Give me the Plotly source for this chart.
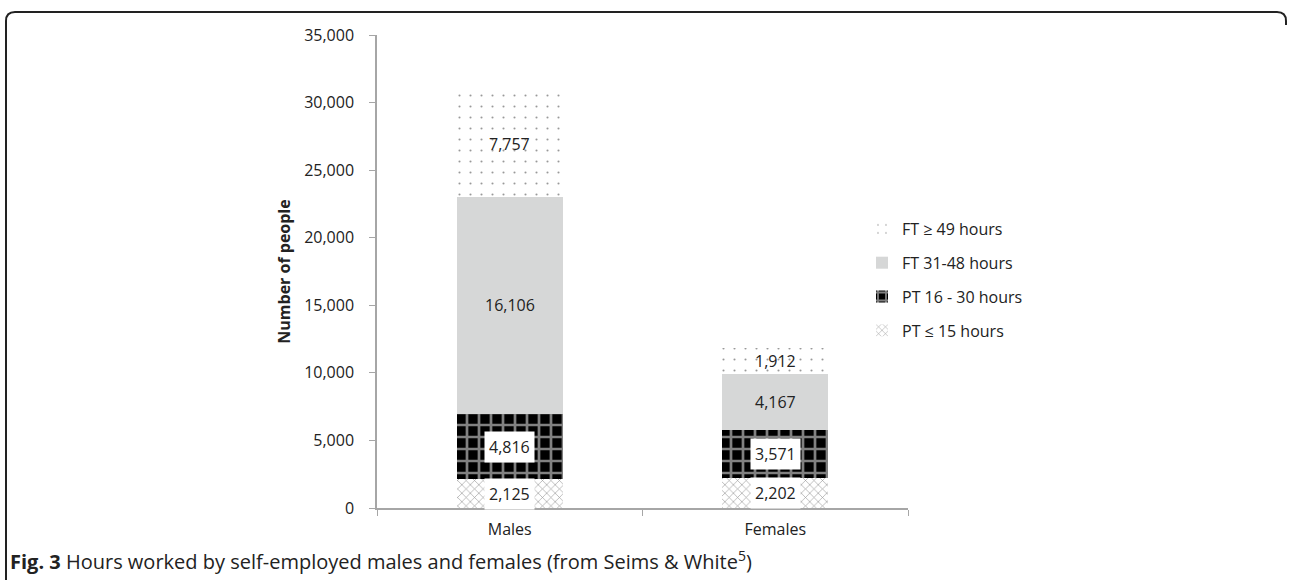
import plotly.graph_objects as go

categories = ["Males", "Females"]
series_names = ["PT ≤ 15 hours", "PT 16 - 30 hours", "FT 31-48 hours", "FT ≥ 49 hours"]
pt_le15 = [2125, 2202]
pt_16_30 = [4816, 3571]
ft_31_48 = [16106, 4167]
ft_ge49 = [7757, 1912]
y_ticks = [0, 5000, 10000, 15000, 20000, 25000, 30000, 35000]

series_values = [pt_le15, pt_16_30, ft_31_48, ft_ge49]
patterns = [
    dict(shape="x", fgcolor="#333333", bgcolor="white", size=6, solidity=0.2),
    dict(shape="+", fgcolor="white", bgcolor="black", size=12, solidity=0.4),
    dict(shape="", bgcolor="#d6d7d7"),
    dict(shape=".", fgcolor="#333333", bgcolor="white", size=11, solidity=0.03),
]
colors = ["white", "black", "#d6d7d7", "white"]
boxed = [True, True, False, False]

FONT = "Open Sans, Liberation Sans, sans-serif"

fig = go.Figure()
n = len(series_names)
for i, (name, vals, pat, col) in enumerate(zip(series_names, series_values, patterns, colors)):
    fig.add_trace(go.Bar(
        x=categories, y=vals, name=name, legendgroup=name, legendrank=(n - i) * 100,
        marker=dict(color=col, pattern=pat, line=dict(width=0)),
        width=0.4,
    ))

# value labels at segment centres
for ci, cat in enumerate(categories):
    base = 0
    for si, vals in enumerate(series_values):
        v = vals[ci]
        fig.add_annotation(
            x=cat, y=base + v / 2, text=f"{v:,}", showarrow=False,
            font=dict(family=FONT, size=16, color="#222222"),
            bgcolor="white" if boxed[si] else None,
            borderpad=4,
        )
        base += v

W, H = 1290, 580
L, R, T, B = 377, 908, 35, 508
pw, ph = R - L, B - T

def px(x):
    return (x - L) / pw

def py(y):
    return (B - y) / ph

# rounded frame (top-left and top-right corners, left side)
x0, x1, y0, y1 = 6, 1286, 12, 600
r = 9
path = (
    f"M {px(x0)},{py(y1)} L {px(x0)},{py(y0 + r)} "
    f"Q {px(x0)},{py(y0)} {px(x0 + r)},{py(y0)} "
    f"L {px(x1 - r)},{py(y0)} Q {px(x1)},{py(y0)} {px(x1)},{py(y0 + r)} "
    f"L {px(x1)},{py(y0 + r + 4)}"
)
fig.add_shape(type="path", path=path, xref="paper", yref="paper",
              line=dict(color="#222222", width=2), layer="above")

fig.add_annotation(
    x=px(8), y=py(560), xref="paper", yref="paper", xanchor="left", yanchor="middle",
    text="<b>Fig. 3</b> Hours worked by self-employed males and females (from Seims &amp; White<sup>5</sup>)",
    showarrow=False, font=dict(family=FONT, size=20, color="#222222"),
)

fig.update_layout(
    width=W, height=H,
    margin=dict(l=L, r=W - R, t=T, b=H - B, pad=0),
    barmode="stack",
    plot_bgcolor="white", paper_bgcolor="white",
    font=dict(family=FONT, size=16, color="#222222"),
    showlegend=True,
    legend=dict(x=px(862), y=py(212), xanchor="left", yanchor="top",
                traceorder="grouped", font=dict(size=16), tracegroupgap=10,
                itemwidth=30, bgcolor="rgba(0,0,0,0)"),
    xaxis=dict(showline=True, linecolor="#a6a6a6", linewidth=1.5,
               ticks="outside", tickson="boundaries", ticklen=6, tickcolor="#a6a6a6",
               tickfont=dict(size=16), showgrid=False, range=[-0.5, 1.5],
               ticklabelstandoff=6),
    yaxis=dict(range=[0, 35000], tickvals=y_ticks, tickformat=",",
               showline=True, linecolor="#a6a6a6", linewidth=1.5,
               ticks="outside", ticklen=6, tickcolor="#a6a6a6",
               showgrid=False, zeroline=False, tickfont=dict(size=16),
               ticklabelstandoff=12,
               title=dict(text="<b>Number of people</b>", font=dict(size=16), standoff=10)),
)

fig.write_html("out.html", config={"displayModeBar": False},
               post_script="document.body.style.margin='0';")
